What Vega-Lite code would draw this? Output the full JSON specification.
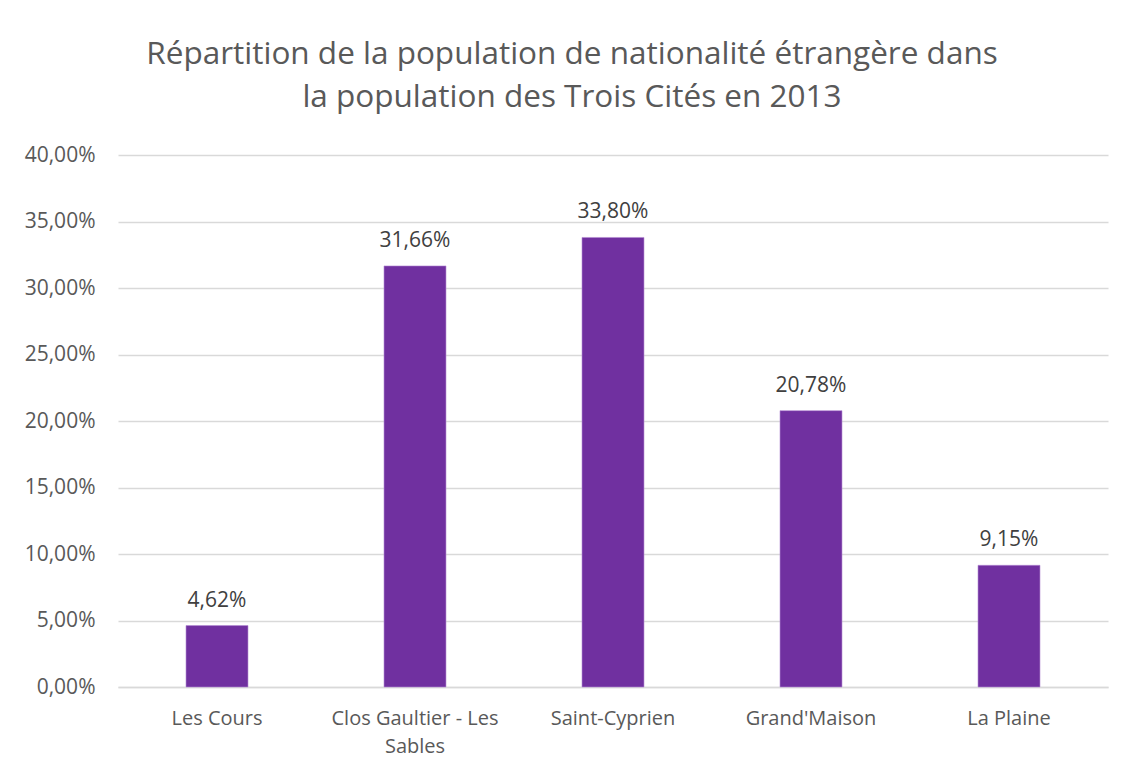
{
  "$schema": "https://vega.github.io/schema/vega-lite/v6.json",
  "width": 990,
  "height": 532,
  "autosize": {"type": "none"},
  "padding": {"left": 118, "top": 155, "right": 15, "bottom": 84},
  "background": "white",
  "title": {
    "text": ["Répartition de la population de nationalité étrangère dans", "la population des Trois Cités en 2013"],
    "font": "Open Sans",
    "fontSize": 31.5,
    "fontWeight": "normal",
    "color": "#595959",
    "lineHeight": 43,
    "anchor": "middle",
    "dx": -41,
    "offset": 31
  },
  "data": {
    "values": [
      {"quartier": "Les Cours", "part": 0.0462},
      {"quartier": "Clos Gaultier - Les Sables", "part": 0.3166},
      {"quartier": "Saint-Cyprien", "part": 0.3380},
      {"quartier": "Grand'Maison", "part": 0.2078},
      {"quartier": "La Plaine", "part": 0.0915}
    ]
  },
  "encoding": {
    "x": {
      "field": "quartier",
      "type": "nominal",
      "sort": null,
      "title": null,
      "scale": {"paddingInner": 0.687, "paddingOuter": 0.3435},
      "axis": {
        "labelAngle": 0,
        "labelFont": "Open Sans",
        "labelFontSize": 20,
        "labelColor": "#595959",
        "labelPadding": 21,
        "labelLineHeight": 28,
        "ticks": false,
        "domainColor": "#d9d9d9",
        "domainWidth": 1.5,
        "labelExpr": "datum.label == 'Clos Gaultier - Les Sables' ? ['Clos Gaultier - Les', 'Sables'] : datum.label"
      }
    },
    "y": {
      "field": "part",
      "type": "quantitative",
      "title": null,
      "scale": {"domain": [0, 0.4], "nice": false},
      "axis": {
        "values": [0, 0.05, 0.1, 0.15, 0.2, 0.25, 0.3, 0.35, 0.4],
        "format": ".2%",
        "labelFont": "Open Sans",
        "labelFontSize": 21,
        "labelColor": "#595959",
        "labelPadding": 23,
        "ticks": false,
        "domain": false,
        "gridColor": "#d9d9d9",
        "gridWidth": 1.5
      }
    }
  },
  "layer": [
    {"mark": {"type": "bar", "color": "#7030a0", "stroke": "#b48ad4", "strokeWidth": 0.6}},
    {
      "mark": {"type": "text", "baseline": "alphabetic", "dy": -19, "font": "Open Sans", "fontSize": 21, "color": "#404040"},
      "encoding": {"text": {"field": "part", "type": "quantitative", "format": ".2%"}}
    }
  ],
  "config": {
    "view": {"stroke": null},
    "locale": {
      "number": {"decimal": ",", "thousands": " ", "grouping": [3], "currency": ["", " €"]}
    }
  }
}
